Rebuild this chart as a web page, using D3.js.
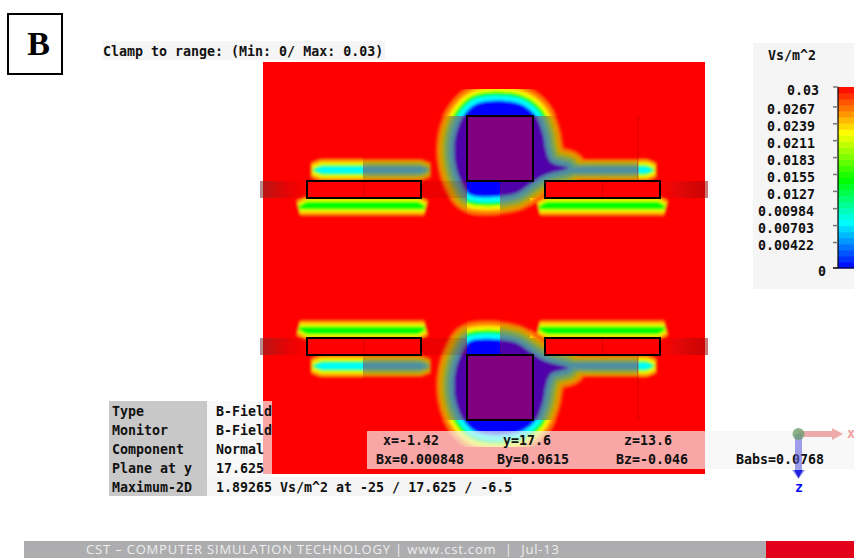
<!DOCTYPE html>
<html><head><meta charset="utf-8">
<script src="https://cdn.jsdelivr.net/npm/d3@7"></script>
<style>html,body{margin:0;padding:0;background:#fff;overflow:hidden}svg{display:block}
.m{font-family:"DejaVu Sans Mono",monospace;font-weight:700;font-size:13.3px;fill:#111}</style></head>
<body><svg id="c" width="854" height="558"></svg>
<script>
// ---- Colour legend ----
const legendTicks=[0.03,0.0267,0.0239,0.0211,0.0183,0.0155,0.0127,0.00984,0.00703,0.00422,0];
const legendLabels=["0.03","0.0267","0.0239","0.0211","0.0183","0.0155","0.0127","0.00984","0.00703","0.00422","0"];
const legendStops=[0,0.0076,0.0146,0.0224,0.03];
const legendColors=["#0000ff","#00ffff","#00ff00","#ffff00","#ff0000"];
const legendSteps=d3.range(0,0.03,0.001);
// ---- Info tables ----
const infoKeys=["Type","Monitor","Component","Plane at y","Maximum-2D"];
const infoVals=["B-Field","B-Field","Normal","17.625","1.89265 Vs/m^2 at -25 / 17.625 / -6.5"];
const probeRow1=["x=-1.42","y=17.6","z=13.6"];
const probeRow2=["Bx=0.000848","By=0.0615","Bz=-0.046","Babs=0.0768"];
// ---- Field geometry, in mesh cells from plot centre (x right, d away from the mid-plane) ----
const blobX=[-6,34,51,59,62,67,84,67,57,45,30,-14,-22,-29,-29,-20];
const blobD=[165,165,153,134,118,106,100,95,91,83,74,73,84,105,130,153];
const neckX=[60,75,162,169,162,75], neckD=[98,101,101,98,95,95];
const stripX=[-170,-162,-64,-56,-64,-162], stripD=[98,101,101,98,95,95];
const thinLX=[-184,-176,-67,-60], thinRX=[56,64,173,180], thinD=[60.5,64.5,64.5,60.5];
const barL=[-177,-63], barR=[61,176], barD=[70,87];
const square=[-17,49], squareD=[87,152];
// band half-widths, outermost to innermost
const blobBands=[18,15,12,9,5,0], stripBands=[8,6.5,4.5,2.2,0.3,null], thinBands=[8,6.5,4.5,2.5,null,null];
const brightColors=["#ff5a00","#ffaa00","#ffff00","#00ff00","#00ffff","#0000ff"];
const mutedColors=["#f86a00","#e09a00","#a8a800","#6fa060","#4f8fa0","#5000a8"];
const brightZones=[[-221,221,152,206],[-17,16,0,87],[-221,-50,0,70],[46,221,0,70],[-221,-121,87,152],[154,221,87,152]];
const seamX=[-121,154];

const svg=d3.select("#c"),defs=svg.append("defs");
const x=d3.scaleLinear().domain([-221,221]).range([263,705]);
const yUp=d3.scaleLinear().domain([0,206]).range([268,62]);
const yDown=d3.scaleLinear().domain([0,206]).range([268,474]);

defs.append("filter").attr("id","soft").attr("x","-10%").attr("y","-10%").attr("width","120%").attr("height","120%")
  .append("feGaussianBlur").attr("stdDeviation",1.4);
function grad(id,a,b){const g=defs.append("linearGradient").attr("id",id);
  g.append("stop").attr("offset",0).attr("stop-color","#703030").attr("stop-opacity",a);
  g.append("stop").attr("offset",1).attr("stop-color","#a00000").attr("stop-opacity",b);}
grad("fadeL",0.55,0);grad("fadeR",0,0.55);

svg.append("rect").attr("x",x(-221)).attr("y",yUp(206)).attr("width",x(221)-x(-221)).attr("height",yDown(206)-yUp(206)).attr("fill","#ff0000");

const shapes=[
 {xs:blobX,ds:blobD,bands:blobBands,curve:d3.curveCatmullRomClosed},
 {xs:neckX,ds:neckD,bands:stripBands,curve:d3.curveLinearClosed},
 {xs:stripX,ds:stripD,bands:stripBands,curve:d3.curveLinearClosed},
 {xs:thinLX,ds:thinD,bands:thinBands,curve:d3.curveLinearClosed},
 {xs:thinRX,ds:thinD,bands:thinBands,curve:d3.curveLinearClosed}];

function field(parent,y,colors){
  const g=parent.append("g").attr("filter","url(#soft)");
  colors.forEach((col,b)=>{
    shapes.forEach(s=>{
      const w=s.bands[b]; if(w===null) return;
      const pts=s.xs.map((v,i)=>[x(v),y(s.ds[i])]);
      g.append("path").attr("d",d3.line().curve(s.curve)(pts))
       .attr("fill",col).attr("stroke",w>0?col:"none").attr("stroke-width",w*2)
       .attr("stroke-linejoin","bevel");
    });
  });
}
function half(name,y){
  const cp=defs.append("clipPath").attr("id","b"+name);
  brightZones.forEach(z=>{
    const ya=y(z[2]),yb=y(z[3]);
    cp.append("rect").attr("x",x(z[0])).attr("width",x(z[1])-x(z[0])).attr("y",Math.min(ya,yb)).attr("height",Math.abs(yb-ya));
  });
  field(svg.append("g"),y,mutedColors);
  field(svg.append("g").attr("clip-path",`url(#b${name})`),y,brightColors);
  // dark plane cut through the conductors
  const ya=Math.min(y(barD[0]),y(barD[1])),h=Math.abs(y(barD[1])-y(barD[0]));
  svg.append("rect").attr("x",x(-224)).attr("y",ya).attr("width",x(barL[0])-x(-224)).attr("height",h).attr("fill","url(#fadeL)");
  svg.append("rect").attr("x",x(barR[1])).attr("y",ya).attr("width",x(224)-x(barR[1])).attr("height",h).attr("fill","url(#fadeR)");
  svg.append("rect").attr("x",x(barL[1])).attr("y",ya).attr("width",x(square[0])-x(barL[1])).attr("height",h).attr("fill","#900000").attr("opacity",0.16);
  // mesh seam
  svg.append("line").attr("x1",x(seamX[1])).attr("x2",x(seamX[1])).attr("y1",y(squareD[1])).attr("y2",y(barD[0])).attr("stroke","#b00000").attr("stroke-width",1).attr("opacity",0.5);
  // conductors
  [barL,barR].forEach(b=>{
    svg.append("rect").attr("x",x(b[0])).attr("width",x(b[1])-x(b[0])).attr("y",ya).attr("height",h)
      .attr("fill","#ff0000").attr("stroke","#000").attr("stroke-width",2);
    svg.append("line").attr("x1",x(d3.mean(b))).attr("x2",x(d3.mean(b))).attr("y1",y(barD[0])+(y===yUp?-1:1)).attr("y2",y(barD[1])+(y===yUp?1:-1)).attr("stroke","#d80000");
  });
  const sa=Math.min(y(squareD[0]),y(squareD[1])),sh=Math.abs(y(squareD[1])-y(squareD[0]));
  svg.append("rect").attr("x",x(square[0])).attr("width",x(square[1])-x(square[0])).attr("y",sa).attr("height",sh)
    .attr("fill","#800080").attr("stroke","#000").attr("stroke-width",2);
}
half("U",yUp);half("D",yDown);

// Panel label
svg.append("rect").attr("x",8).attr("y",14).attr("width",54).attr("height",60).attr("fill","#fff").attr("stroke","#000").attr("stroke-width",2);
svg.append("text").attr("x",38.5).attr("y",55).attr("text-anchor","middle").attr("font-family","'Liberation Serif',serif").attr("font-weight",700).attr("font-size",34).attr("fill","#000").text("B");

// Clamp caption
svg.append("rect").attr("x",103).attr("y",41).attr("width",282).attr("height",19).attr("fill","#f5f5f5");
svg.append("text").attr("class","m").attr("x",103).attr("y",56).text("Clamp to range: (Min: 0/ Max: 0.03)");

// Legend
svg.append("rect").attr("x",753).attr("y",43).attr("width",101).attr("height",246).attr("fill","#f5f5f5");
svg.append("text").attr("class","m").attr("x",768).attr("y",60).text("Vs/m^2");
const ly=d3.scaleLinear().domain([0,0.03]).range([268,87]);
const lc=d3.scaleLinear().domain(legendStops).range(legendColors);
svg.selectAll(".bar").data(legendSteps).join("rect").attr("x",838).attr("width",16)
  .attr("y",d=>ly(d+0.001)).attr("height",d=>ly(d)-ly(d+0.001)+0.5).attr("fill",d=>lc(d+0.0005));
svg.append("line").attr("x1",838).attr("x2",838).attr("y1",87).attr("y2",268).attr("stroke","#000").attr("stroke-width",1.2);
svg.append("line").attr("x1",838).attr("x2",854).attr("y1",268).attr("y2",268).attr("stroke","#000").attr("stroke-width",1);
legendTicks.forEach((t,i)=>{
  svg.append("line").attr("x1",833).attr("x2",838).attr("y1",ly(t)).attr("y2",ly(t)).attr("stroke",t===0?"#000":"#777").attr("stroke-width",1.5);
  svg.append("text").attr("class","m").attr("text-anchor","end").attr("x",t===0.03?819:(t===0?826:(t<0.01?814:815))).attr("y",ly(t)+7.5).text(legendLabels[i]);
});

// Info table
svg.append("rect").attr("x",109).attr("y",401).attr("width",98).attr("height",95).attr("fill","#c8c8c8");
svg.append("rect").attr("x",207).attr("y",401).attr("width",65).attr("height",76).attr("fill","#f5f5f5").attr("fill-opacity",0.68);
svg.append("rect").attr("x",207).attr("y",477).attr("width",305).attr("height",19).attr("fill","#f5f5f5");
infoKeys.forEach((k,i)=>{
  svg.append("text").attr("class","m").attr("x",112).attr("y",416+i*19).text(k);
  svg.append("text").attr("class","m").attr("x",216).attr("y",416+i*19).text(infoVals[i]);
});

// Probe box
svg.append("rect").attr("x",367).attr("y",431).attr("width",487).attr("height",38).attr("fill","#f5f5f5").attr("fill-opacity",0.68);
[383,503,624].forEach((px,i)=>svg.append("text").attr("class","m").attr("x",px).attr("y",445).text(probeRow1[i]));
[376,497,616,736].forEach((px,i)=>svg.append("text").attr("class","m").attr("x",px).attr("y",464).text(probeRow2[i]));

// Axis triad
const tri=svg.append("g");
tri.append("path").attr("d","M798,431H832V428L843,434L832,440V437H798Z").attr("fill","#e89090").attr("opacity",0.75);
tri.append("path").attr("d","M795,434H802V470H805L798.5,479L792,470H795Z").attr("fill","#6060e0").attr("opacity",0.6);
tri.append("path").attr("d","M794,470H803L798.5,478Z").attr("fill","#2020e0");
tri.append("circle").attr("cx",798.5).attr("cy",434).attr("r",6).attr("fill","#70a070").attr("opacity",0.8);
tri.append("text").attr("class","m").attr("x",847).attr("y",438).attr("style","fill:#f0a0a0").text("x");
tri.append("text").attr("class","m").attr("x",795).attr("y",492).attr("style","fill:#0000ff").text("z");

// Footer
svg.append("rect").attr("x",24).attr("y",541).attr("width",742).attr("height",17).attr("fill","#adadaf");
svg.append("rect").attr("x",766).attr("y",541).attr("width",88).attr("height",17).attr("fill","#e2001a");
svg.append("text").attr("x",86).attr("y",554).attr("font-family","'Open Sans',sans-serif").attr("font-size",13).attr("fill","#eeeeee")
  .attr("textLength",473).attr("xml:space","preserve").text("CST \u2013 COMPUTER SIMULATION TECHNOLOGY | www.cst.com  |  Jul-13");
</script></body></html>
